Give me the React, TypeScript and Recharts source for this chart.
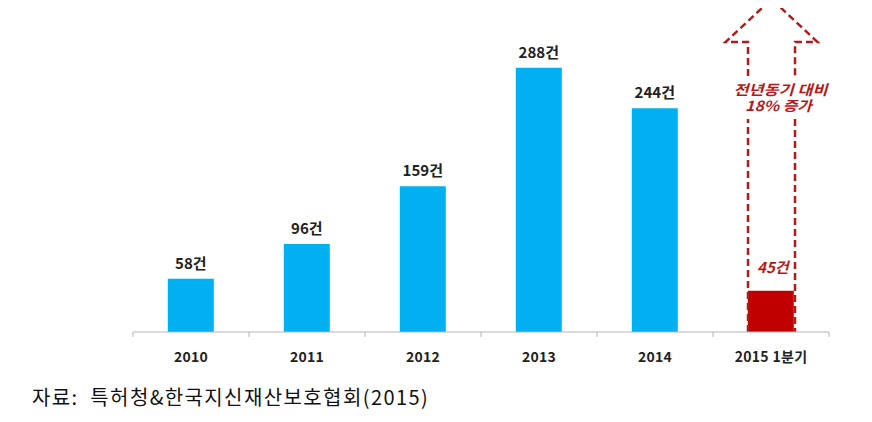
import React from 'react';
import { BarChart, Bar, XAxis, YAxis, Cell, LabelList } from 'recharts';

// 연도별 건수
const categories = ['2010', '2011', '2012', '2013', '2014', '2015 1분기'];
const counts = [58, 96, 159, 288, 244, 45];
// dashed arrow over the last bar (value at the arrow tip)
const arrowTops = [null, null, null, null, null, 363];
const arrowNote = ['전년동기 대비', '18% 증가'];
const noteWidths = [94, 67];
const source = '자료:  특허청&한국지신재산보호협회(2015)';

const data = categories.map((c, i) => ({ category: c, count: counts[i], arrow: arrowTops[i] }));

const BLUE = '#00b0f0';
const RED = '#c00000';
const ARROW = '#b31b1b';
const FONT = '"Noto Sans CJK KR", "Noto Sans", sans-serif';

const W = 872;
const H = 372;
const M = { top: 0, right: 43, left: 133, bottom: 0 };
const CAT_W = (W - M.left - M.right) / categories.length;

const AxisTick = (props: any) => {
  const { x, y, payload, index } = props;
  const axisY = y - 8;
  const left = x - CAT_W / 2;
  return (
    <g>
      <line x1={left} x2={left} y1={axisY} y2={axisY + 5} stroke="#b5b5b5" />
      {index === categories.length - 1 && (
        <line x1={left + CAT_W} x2={left + CAT_W} y1={axisY} y2={axisY + 5} stroke="#b5b5b5" />
      )}
      <text x={x} y={axisY + 30} textAnchor="middle" fontSize={14} fontWeight="bold" fill="#222" fontFamily={FONT} letterSpacing={0.3}>
        {payload.value}
      </text>
    </g>
  );
};

const ArrowShape = (props: any) => {
  const { x, y, width, height, payload } = props;
  if (!payload || !payload.arrow) return null;
  const cx = x + width / 2;
  const base = y + height;
  const headY = y + 43;
  const hw = 46;
  const gapTop = y + 77;
  const gapBot = y + 120;
  const d = [
    `M${x},${base} L${x},${gapBot}`,
    `M${x},${gapTop} L${x},${headY} L${cx - hw},${headY} L${cx},${y} L${cx + hw},${headY} L${x + width},${headY} L${x + width},${gapTop}`,
    `M${x + width},${gapBot} L${x + width},${base}`,
  ].join(' ');
  return (
    <g>
      <path d={d} fill="none" stroke={ARROW} strokeWidth={2.5} strokeDasharray="7 4" />
      <text
        textAnchor="middle"
        fontSize={14}
        fontWeight="bold"
        fontStyle="italic"
        fill={ARROW}
        fontFamily={FONT}
      >
        {arrowNote.map((t, i) => (
          <tspan
            key={i}
            x={cx + 9 - i * 2}
            y={y + 96 + i * 16}
            textLength={noteWidths[i]}
            lengthAdjust="spacingAndGlyphs"
          >
            {t}
          </tspan>
        ))}
      </text>
    </g>
  );
};

const CountLabel = (props: any) => {
  const { x, y, width, value, index } = props;
  const last = index === counts.length - 1;
  return (
    <text
      x={x + width / 2 + (last ? 2 : 0)}
      y={y - (last ? 18 : 10)}
      textAnchor="middle"
      fontSize={15}
      fontWeight="bold"
      fontStyle={last ? 'italic' : 'normal'}
      fill={last ? ARROW : '#222'}
      fontFamily={FONT}
    >
      {value}건
    </text>
  );
};

export default function App() {
  return (
    <div style={{ position: 'relative', width: W, height: 422, margin: -8, background: '#fff' }}>
      <BarChart width={W} height={H} data={data} margin={M} barCategoryGap="30%">
        <XAxis
          dataKey="category"
          xAxisId="main"
          height={40}
          tickLine={false}
          axisLine={{ stroke: '#b5b5b5' }}
          tick={<AxisTick />}
          interval={0}
        />
        <XAxis dataKey="category" xAxisId="arrow" hide height={0} />
        <YAxis hide domain={[0, 362]} allowDataOverflow />
        <Bar dataKey="count" xAxisId="main" isAnimationActive={false}>
          {data.map((d, i) => (
            <Cell key={i} fill={i === data.length - 1 ? RED : BLUE} />
          ))}
          <LabelList dataKey="count" content={<CountLabel />} />
        </Bar>
        <Bar dataKey="arrow" xAxisId="arrow" barSize={47} shape={<ArrowShape />} isAnimationActive={false} />
      </BarChart>
      <div
        style={{
          position: 'absolute',
          left: 32,
          top: 385,
          fontSize: 20,
          letterSpacing: 1.4,
          color: '#111',
          fontFamily: '"Noto Sans CJK KR", sans-serif',
          whiteSpace: 'pre',
          lineHeight: '24px',
        }}
      >
        {source}
      </div>
    </div>
  );
}
